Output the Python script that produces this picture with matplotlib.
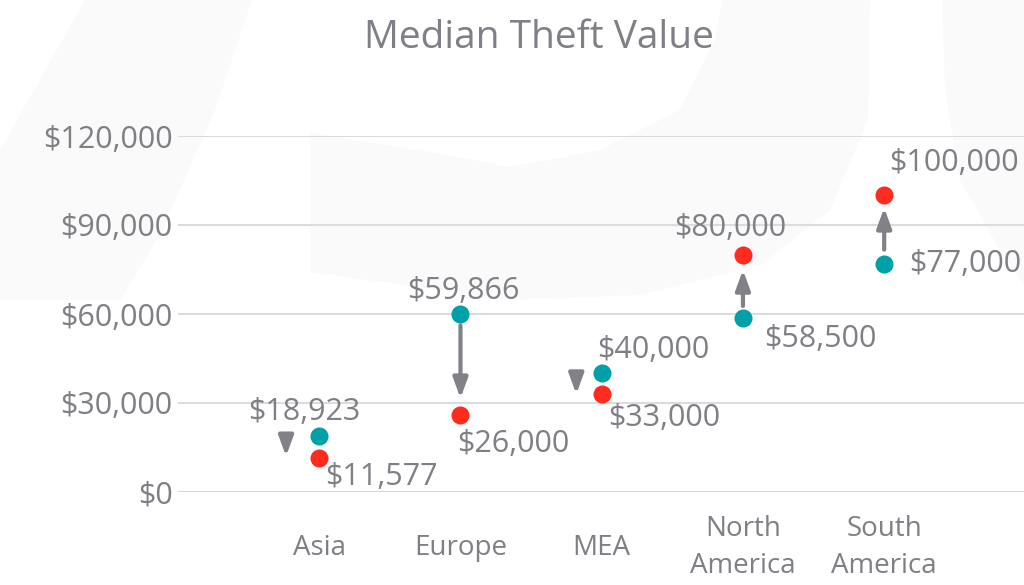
import matplotlib
matplotlib.use("Agg")
import matplotlib.pyplot as plt
from matplotlib.patches import Polygon
import numpy as np

# data
regions = ["Asia", "Europe", "MEA", "North\nAmerica", "South\nAmerica"]
before = [18923, 59866, 40000, 58500, 77000]   # teal
after = [11577, 26000, 33000, 80000, 100000]   # red
yticks = [0, 30000, 60000, 90000, 120000]

teal = "#00a0a8"
red = "#ff2b1f"
grey = "#7f7f86"

plt.rcParams['font.family'] = ['Open Sans', 'DejaVu Sans']

W, H = 1024, 585
fig = plt.figure(figsize=(W / 100, H / 100), dpi=100)
fig.patch.set_facecolor("white")

# faint watermark shapes in the background (pixel coords, y from top)
def px(points):
	return [(x / W, 1 - y / H) for x, y in points]

shapes = [
	[(85, 0), (252, 0), (215, 110), (160, 235), (120, 300), (0, 300), (0, 150)],
	[(310, 133), (420, 150), (512, 167), (600, 150), (680, 110), (715, 40), (722, 0),
	 (870, 0), (868, 120), (830, 210), (760, 265), (640, 295), (512, 300), (310, 272)],
	[(942, 0), (1024, 0), (1024, 285), (1000, 250), (960, 180), (945, 90)],
]
for s in shapes:
	fig.add_artist(Polygon(px(s), closed=True, facecolor="#fafafa", edgecolor="none",
		transform=fig.transFigure, zorder=0))

ax = fig.add_axes([178 / W, 1 - 492 / H, (W - 178) / W, 356 / H])
ax.set_facecolor("none")
ax.set_xlim(-1.0, 4.99)
ax.set_ylim(0, 120000)
for sp in ax.spines.values():
	sp.set_visible(False)

for v in yticks[1:]:
	ax.axhline(v, color="#dcdcdc", lw=1.5, zorder=1)
ax.axhline(0, color="#c6c6c6", lw=1.8, zorder=1)

ax.set_yticks(yticks)
ax.set_yticklabels(["${:,}".format(v) for v in yticks])
ax.tick_params(axis="y", length=0, pad=4, labelsize=22, labelcolor=grey)

xs = np.arange(len(regions))
ax.set_xticks(xs)
ax.set_xticklabels(regions, linespacing=1.45)
ax.tick_params(axis="x", length=0, pad=40, labelsize=20, labelcolor=grey)
plt.setp(ax.get_xticklabels(), va="center")

# arrows: (x offset, shrinkA, shrinkB)
arrow_cfg = [(-0.235, 1, 1), (0, 8, 12), (-0.18, 0, 0), (0, 9, 11), (0, 10, 9)]
for i in range(len(regions)):
	dx, sa, sb = arrow_cfg[i]
	ax.annotate("", xy=(xs[i] + dx, after[i]), xytext=(xs[i] + dx, before[i]),
		arrowprops=dict(arrowstyle="-|>,head_length=0.6,head_width=0.22",
			color="#818187", lw=3, shrinkA=sa, shrinkB=sb, mutation_scale=20),
		zorder=2)

ax.plot(xs, before, "o", color=teal, ms=13, mec="none", zorder=3, clip_on=False)
ax.plot(xs, after, "o", color=red, ms=13, mec="none", zorder=3, clip_on=False)

# label offsets in points
before_off = [(-11, 17), (2, 17), (37, 17), (56, -15), (58, 0)]
after_off = [(45, -14), (38, -21), (45, -17), (-9, 19), (50, 23)]
for i in range(len(regions)):
	ax.annotate("${:,}".format(before[i]), (xs[i], before[i]), xytext=before_off[i],
		textcoords="offset points", ha="center", va="center", fontsize=22, color=grey,
		annotation_clip=False)
	ax.annotate("${:,}".format(after[i]), (xs[i], after[i]), xytext=after_off[i],
		textcoords="offset points", ha="center", va="center", fontsize=22, color=grey,
		annotation_clip=False)

fig.text(539 / W, 1 - 38 / H, "Median Theft Value", ha="center", va="center",
	fontsize=28, color=grey)

fig.savefig("out.png", dpi=100)
